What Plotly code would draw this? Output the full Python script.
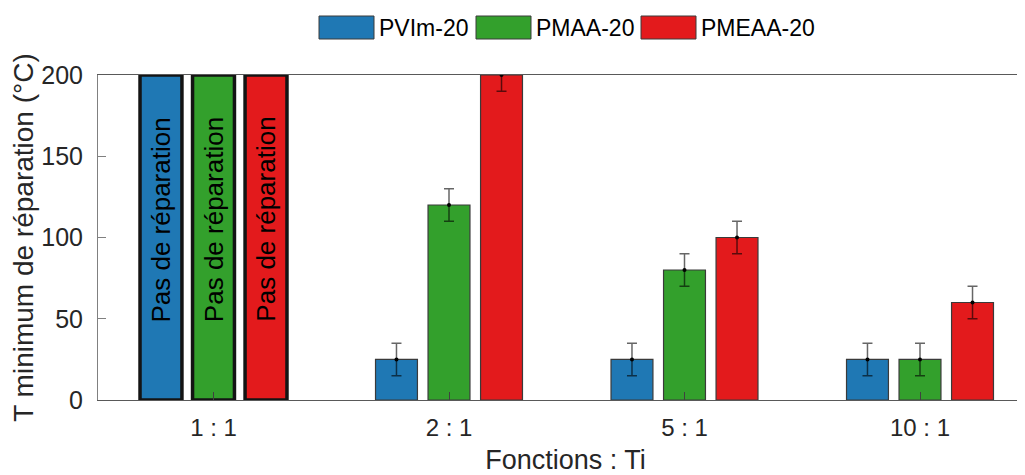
import plotly.graph_objects as go

# ---------------- data ----------------
categories = ["1 : 1", "2 : 1", "5 : 1", "10 : 1"]
series_names = ["PVIm-20", "PMAA-20", "PMEAA-20"]
pvim = [200, 25, 25, 25]
pmaa = [200, 120, 80, 25]
pmeaa = [200, 200, 100, 60]
pvim_err = [0, 10, 10, 10]
pmaa_err = [0, 10, 10, 10]
pmeaa_err = [0, 10, 10, 10]
no_repair = [True, False, False, False]
no_repair_label = "Pas de réparation"
y_ticks = [0, 50, 100, 150, 200]

# ---------------- style ----------------
colors = ["#1f78b4", "#33a02c", "#e31a1c"]
FONT = "Liberation Sans, Arial, sans-serif"
TXT = "#262626"
W, H = 1025, 475
OFF = 8  # page body margin offset
ML, MR, MT, MB = 98 - OFF, 0, 75 - OFF, 475 - (400 - OFF)
slot = 0.223
bw = 0.178

values = [pvim, pmaa, pmeaa]
errs = [pvim_err, pmaa_err, pmeaa_err]

fig = go.Figure()
for k, (name, vals, err, col) in enumerate(zip(series_names, values, errs, colors)):
    xs = [i + (k - 1) * slot for i in range(len(categories))]
    fig.add_trace(go.Bar(
        x=xs, y=vals, width=bw, name=name, showlegend=False,
        marker=dict(
            color=col,
            line=dict(color=["#141414" if nr else "#3a3a3a" for nr in no_repair],
                      width=[3.5 if nr else 1.2 for nr in no_repair]),
        ),
    ))
    ex = [x for x, nr in zip(xs, no_repair) if not nr]
    ey = [v for v, nr in zip(vals, no_repair) if not nr]
    ee = [e for e, nr in zip(err, no_repair) if not nr]
    fig.add_trace(go.Scatter(
        x=ex, y=ey, mode="markers", showlegend=False, cliponaxis=True,
        marker=dict(color="black", size=4),
        error_y=dict(type="data", array=ee, color="rgba(0,0,0,0.6)",
                     thickness=1.5, width=5),
    ))
    for x, nr in zip(xs, no_repair):
        if nr:
            fig.add_annotation(
                x=x, y=111, text=no_repair_label, textangle=-90,
                showarrow=False, xanchor="center", yanchor="middle",
                font=dict(family=FONT, size=26, color="black"),
            )

# custom legend (large swatches like the original)
pw = W - ML - MR
ph = H - MT - MB


def px_x(p):
    return (p - OFF - ML) / pw


def px_y(p):
    return (H - MB - (p - OFF)) / ph


legend_left = [319, 476, 641]
for name, col, left in zip(series_names, colors, legend_left):
    fig.add_shape(type="rect", xref="paper", yref="paper",
                  x0=px_x(left), x1=px_x(left + 55), y0=px_y(39), y1=px_y(16),
                  fillcolor=col, line=dict(color="#3a3a3a", width=1))
    fig.add_annotation(xref="paper", yref="paper", x=px_x(left + 58), y=px_y(27.5),
                       text=name, showarrow=False, xanchor="left", yanchor="middle",
                       font=dict(family=FONT, size=23, color="black"))

# x range: reference category 0 at px 213.5, spacing 235.5, plot from px 98 to 1033
x0 = (98 - 213.5) / 235.5
x1 = (98 + pw - 213.5) / 235.5

fig.update_layout(
    width=W, height=H,
    margin=dict(l=ML, r=MR, t=MT, b=MB),
    plot_bgcolor="white", paper_bgcolor="white",
    barmode="overlay",
    font=dict(family=FONT, color=TXT),
    xaxis=dict(
        range=[x0, x1],
        tickvals=list(range(len(categories))), ticktext=categories,
        ticks="inside", ticklen=8, tickcolor="#404040", tickwidth=1,
        showline=True, linecolor="#595959", linewidth=1, mirror=True,
        showgrid=False, zeroline=False,
        tickfont=dict(family=FONT, size=24, color=TXT),
        ticklabelstandoff=6,
        title=dict(text="Fonctions : Ti", standoff=10,
                   font=dict(family=FONT, size=27, color=TXT)),
        automargin=False,
    ),
    yaxis=dict(
        range=[0, 200], tickvals=y_ticks,
        ticks="inside", ticklen=8, tickcolor="#808080", tickwidth=1,
        showline=True, linecolor="#808080", linewidth=1, mirror=False,
        showgrid=False, zeroline=False,
        tickfont=dict(family=FONT, size=25, color=TXT),
        ticklabelstandoff=9,
        title=dict(text="T minimum de réparation (°C)", standoff=4,
                   font=dict(family=FONT, size=28, color=TXT)),
        automargin=False,
    ),
)

fig.write_html("out.html")
